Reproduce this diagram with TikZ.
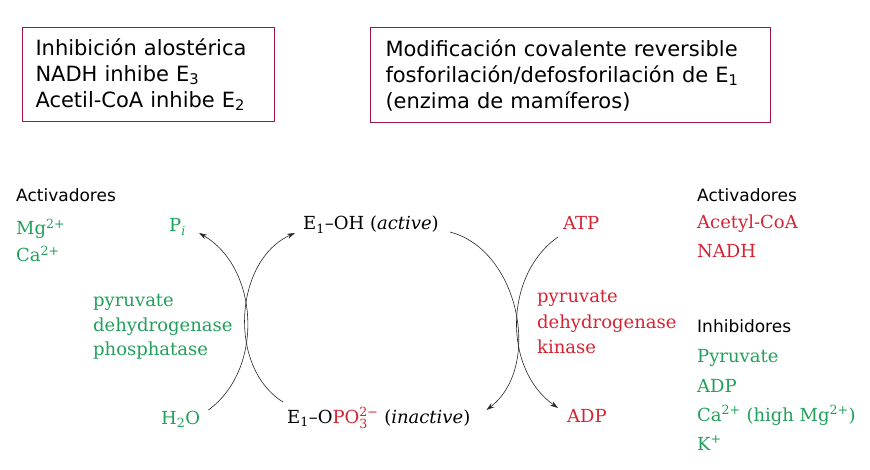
\documentclass[tikz,border=0pt]{standalone}
\usepackage{amsmath}
\usepackage{fontspec}
\setmainfont{DejaVu Serif}
\setsansfont{DejaVu Sans}
\usetikzlibrary{arrows.meta}
\definecolor{vert}{RGB}{32,160,90}
\definecolor{rouge}{RGB}{212,36,52}
\definecolor{cadre}{RGB}{160,20,70}

\begin{document}
\begin{tikzpicture}[line cap=round,line join=round,>={Stealth[length=8pt,width=5pt]},x=1pt,y=1pt,
	txt/.style={anchor=base west,inner sep=2pt,font=\fontsize{18}{24}\selectfont},
	titre/.style={anchor=base west,inner sep=0pt,font=\sffamily\fontsize{17}{20}\selectfont},
	cadrebox/.style={draw=cadre,line width=1pt,anchor=north west,align=left,font=\sffamily\fontsize{21}{26}\selectfont},
	fleche/.style={->,line width=0.6pt,black!85}]
		\useasboundingbox (0,0) rectangle (870,-470);
		%Cadres du haut
		\node[cadrebox,text width=226pt,inner xsep=13pt,minimum height=94pt] (allo) at (22,-27)
			{Inhibición alostérica\\NADH inhibe E$_\text{3}$\\Acetil-CoA inhibe E$_\text{2}$};
		\node[cadrebox,text width=370pt,inner xsep=15pt,minimum height=95pt] (cova) at (370,-27)
			{Modificación covalente reversible\\fosforilación/defosforilación de E$_\text{1}$\\(enzima de mamíferos)};
		%Activadores de la fosfatasa
		\node[titre] (actg) at (16,-202) {Activadores};
		\node[txt,text=vert] (mg) at (14,-235) {Mg$^\text{2+}$};
		\node[txt,text=vert] (ca) at (14,-262) {Ca$^\text{2+}$};
		%Activadores e inhibidores de la quinasa
		\node[titre] (actd) at (697,-202) {Activadores};
		\node[txt,text=rouge] (acoa) at (695,-229) {Acetyl-CoA};
		\node[txt,text=rouge] (nadh) at (695,-258) {NADH};
		\node[titre] (inh) at (697,-332) {Inhibidores};
		\node[txt,text=vert] (pyr) at (695,-362) {Pyruvate};
		\node[txt,text=vert] (adpi) at (695,-392) {ADP};
		\node[txt,text=vert] (cai) at (695,-421) {Ca$^\text{2+}$ (high Mg$^\text{2+}$)};
		\node[txt,text=vert] (k) at (695,-450) {K$^\text{+}$};
		%Enzima
		\node[txt] (act) at (301,-230) {E$_\text{1}$–OH (\textit{active})};
		\node[txt] (inact) at (285,-423) {E$_\text{1}$–O\textcolor{rouge}{PO$_\text{3}^\text{2−}$} (\textit{inactive})};
		%Fosfatasa
		\node[txt,text=vert] (pi) at (167,-232) {P$_\text{\itshape i}$};
		\node[txt,text=vert] (hdo) at (159,-424) {H$_\text{2}$O};
		\node[txt,text=vert] (fosf1) at (91,-307) {pyruvate};
		\node[txt,text=vert] (fosf2) at (91,-331) {dehydrogenase};
		\node[txt,text=vert] (fosf3) at (91,-355) {phosphatase};
		%Quinasa
		\node[txt,text=rouge] (atp) at (561,-230) {ATP};
		\node[txt,text=rouge] (adp) at (565,-422) {ADP};
		\node[txt,text=rouge] (kin1) at (535,-303) {pyruvate};
		\node[txt,text=rouge] (kin2) at (535,-328) {dehydrogenase};
		\node[txt,text=rouge] (kin3) at (535,-353) {kinase};
		%Flechas
		\draw[fleche] ([shift={(6,14)}]hdo.base east) to[bend right=57] ([shift={(11,-1)}]pi.base east);
		\draw[fleche] ([shift={(-2,21)}]inact.base west) to[bend left=62] ([shift={(-6,-3)}]act.base west);
		\draw[fleche] ([shift={(9,-2)}]act.base east) to[bend left=64] ([shift={(14,13)}]inact.base east);
		\draw[fleche] ([shift={(-3,-7)}]atp.base west) to[bend right=55] ([shift={(-7,14)}]adp.base west);
		\end{tikzpicture}
\end{document}
